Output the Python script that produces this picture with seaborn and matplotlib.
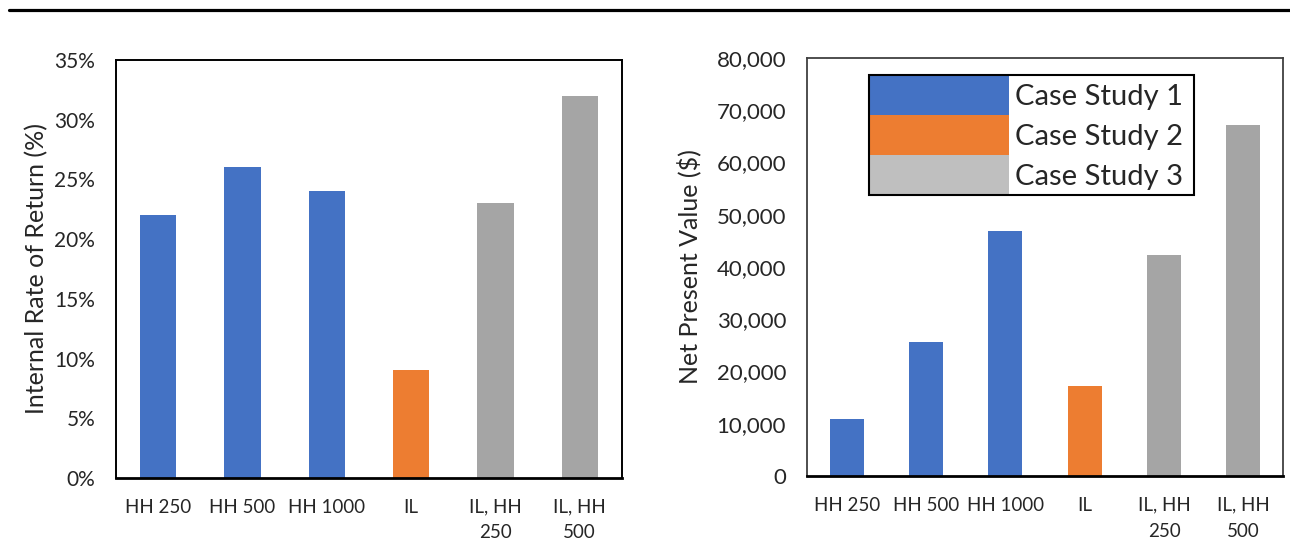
import matplotlib
matplotlib.use("Agg")
import matplotlib.pyplot as plt
from matplotlib.patches import Patch, Rectangle
from matplotlib.lines import Line2D
from matplotlib.ticker import FuncFormatter, MultipleLocator
import seaborn as sns
import pandas as pd

# Scenario labels and data
categories = ["HH 250", "HH 500", "HH 1000", "IL", "IL, HH\n250", "IL, HH\n500"]
case_study = ["Case Study 1", "Case Study 1", "Case Study 1",
              "Case Study 2", "Case Study 3", "Case Study 3"]
irr_percent = [22, 26, 24, 9, 23, 32]
npv_dollars = [11000, 25600, 46900, 17200, 42300, 67200]

case_names = ["Case Study 1", "Case Study 2", "Case Study 3"]
bar_colors = {"Case Study 1": "#4472C4", "Case Study 2": "#ED7D31", "Case Study 3": "#A5A5A5"}
legend_colors = ["#4472C4", "#ED7D31", "#BFBFBF"]

df = pd.DataFrame({"scenario": categories, "case": case_study,
                   "irr": irr_percent, "npv": npv_dollars})

sns.set_theme(style="white")
plt.rcParams["font.family"] = ["Lato", "DejaVu Sans"]
text_color = "#262626"
DPI = 100

fig = plt.figure(figsize=(12.9, 5.41), dpi=DPI)
ax1 = fig.add_axes([0.0899, 0.1165, 0.3922, 0.7726])
ax2 = fig.add_axes([0.6256, 0.1201, 0.3690, 0.7727])

for ax, col, ysize in ((ax1, "irr", 15), (ax2, "npv", 16)):
    sns.barplot(data=df, x="scenario", y=col, hue="case", palette=bar_colors,
                dodge=False, width=0.43, ax=ax, legend=False,
                linewidth=0, saturation=1)
    ax.set_xlabel("")
    ax.set_xlim(-0.5, len(categories) - 0.5)
    ax.tick_params(axis="both", length=0, colors=text_color)
    ax.tick_params(axis="y", pad=15, labelsize=ysize)
    ax.tick_params(axis="x", pad=15, labelsize=13.5)
    for lbl in ax.get_xticklabels():
        lbl.set_linespacing(1.62)
        lbl.set_verticalalignment("top")

# Internal rate of return
ax1.set_ylim(0, 35)
ax1.yaxis.set_major_locator(MultipleLocator(5))
ax1.yaxis.set_major_formatter(FuncFormatter(lambda v, p: f"{v:.0f}%"))
ax1.set_ylabel("Internal Rate of Return (%)", fontsize=18, color=text_color,
               va="center")
ax1.yaxis.set_label_coords(-0.157, 0.5)
for s in ax1.spines.values():
    s.set_color("black")
    s.set_linewidth(1.4)
ax1.spines["bottom"].set_linewidth(2)

# Net present value
ax2.set_ylim(0, 80000)
ax2.yaxis.set_major_locator(MultipleLocator(10000))
ax2.yaxis.set_major_formatter(FuncFormatter(lambda v, p: f"{v:,.0f}"))
ax2.set_ylabel("Net Present Value ($)", fontsize=18, color=text_color, va="center")
ax2.yaxis.set_label_coords(-0.248, 0.5)
for s in ax2.spines.values():
    s.set_color("#404040")
    s.set_linewidth(1.3)
ax2.spines["bottom"].set_color("black")
ax2.spines["bottom"].set_linewidth(2)

# Legend: full-height colour swatches stacked with no gaps
legend_size = 21
em = legend_size * DPI / 72
swatch_w, swatch_h = 140, 40
hh = (swatch_h / em - 0.245) / 0.65
handles = [Patch(facecolor=c, edgecolor="none") for c in legend_colors]
leg = ax2.legend(handles, case_names, loc="upper left", bbox_to_anchor=(0.130, 0.959),
                 borderaxespad=0, fontsize=legend_size, handlelength=swatch_w / em,
                 handleheight=hh, labelspacing=0, borderpad=0, handletextpad=0.2,
                 frameon=False)
for t in leg.get_texts():
    t.set_color(text_color)

# Frame around the legend, with some room after the labels
fig.canvas.draw()
bb = leg.get_window_extent().transformed(fig.transFigure.inverted())
extra = 11 / fig.bbox.width
fig.add_artist(Rectangle((bb.x0, bb.y0), bb.width + extra, bb.height,
                         transform=fig.transFigure, fill=False,
                         edgecolor="black", linewidth=1.5, zorder=10))

# Rule across the top of the figure
fig.add_artist(Line2D([0.007, 1.0], [0.9806, 0.9806], transform=fig.transFigure,
                      color="black", linewidth=2.3))

fig.savefig("out.png", dpi=DPI)
